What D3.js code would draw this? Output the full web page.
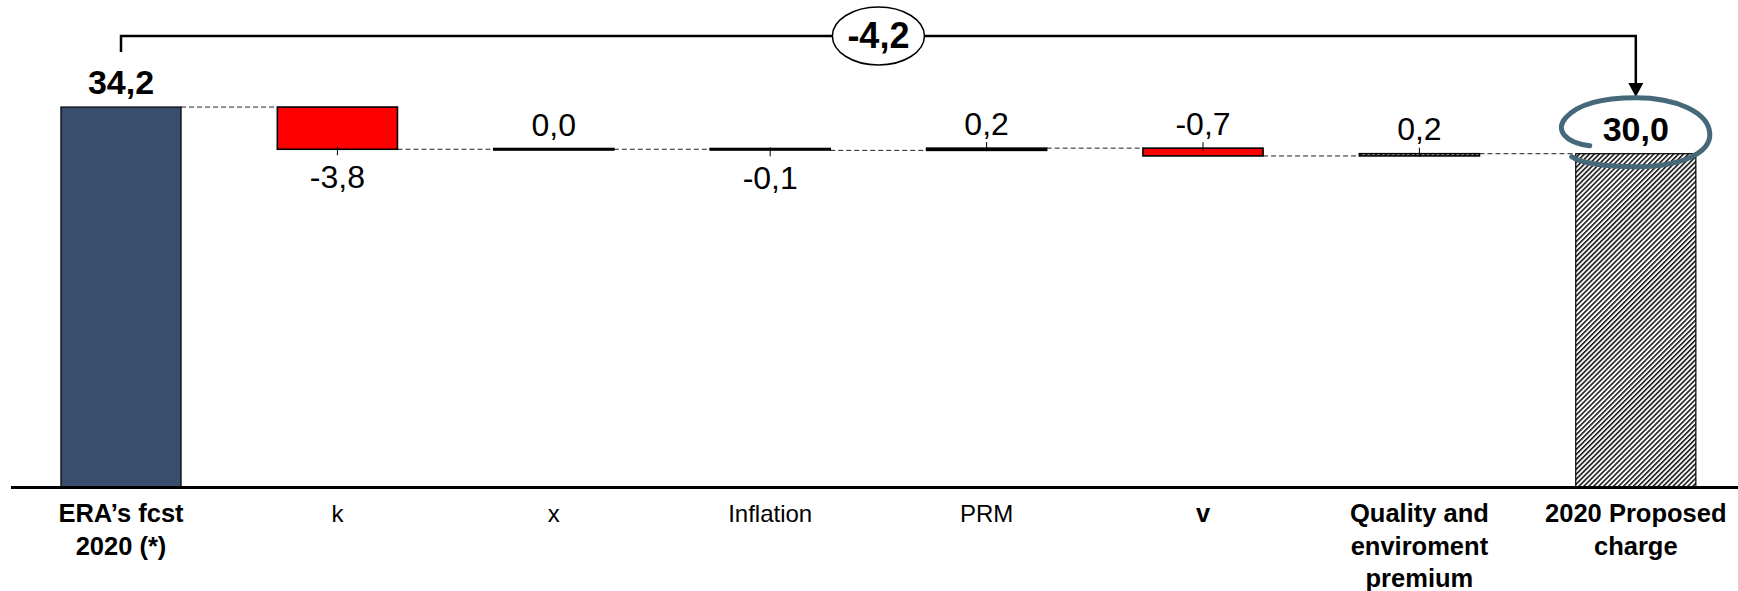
<!DOCTYPE html>
<html>
<head>
<meta charset="utf-8">
<script src="https://cdn.jsdelivr.net/npm/d3@7"></script>
<style>
  html, body { margin: 0; padding: 0; background: #fff; }
  svg { display: block; font-family: "Liberation Sans", Arial, sans-serif; }
</style>
</head>
<body>
<svg id="chart" width="1738" height="591"></svg>
<script>
// ---- data ----
const categories = ["ERA’s fcst 2020 (*)", "k", "x", "Inflation", "PRM", "v", "Quality and enviroment premium", "2020 Proposed charge"];
const categoryLines = [["ERA’s fcst", "2020 (*)"], ["k"], ["x"], ["Inflation"], ["PRM"], ["v"], ["Quality and", "enviroment", "premium"], ["2020 Proposed", "charge"]];
const values = [34.2, -3.8, 0.0, -0.1, 0.2, -0.7, 0.2, 30.0];
const kinds = ["total", "delta", "delta", "delta", "delta", "delta", "delta", "total"];
const totalChange = -4.2;

// ---- style ----
const boldCats = new Set(["ERA’s fcst 2020 (*)", "v", "Quality and enviroment premium", "2020 Proposed charge"]);
const labelBelow = new Set(["k", "Inflation"]);
const fills = ["#394E6C", "#FF0000", "#000000", "#000000", "#000000", "#FF0000", "url(#hatch)", "url(#hatch)"];

const locale = d3.formatLocale({decimal: ",", thousands: ".", grouping: [3], currency: ["", "€"], minus: "-"});
const fmt = locale.format(".1f");

const svg = d3.select("#chart");
const defs = svg.append("defs");
const pat = defs.append("pattern").attr("id", "hatch").attr("patternUnits", "userSpaceOnUse")
  .attr("width", 3.5).attr("height", 10).attr("patternTransform", "rotate(45)");
pat.append("rect").attr("width", 3.5).attr("height", 10).attr("fill", "#fff");
pat.append("line").attr("x1", 0.8).attr("x2", 0.8).attr("y1", 0).attr("y2", 10).attr("stroke", "#1a1a1a").attr("stroke-width", 1.6);

const x = d3.scaleBand().domain(categories).range([12.8, 1744]).paddingInner(0.445).paddingOuter(0.2225);
const y = d3.scaleLinear().domain([0, 40]).range([487, 42.6]);

// compute waterfall
let run = 0;
const bars = categories.map((c, i) => {
  let y0, y1;
  if (kinds[i] === "total") { y0 = 0; y1 = values[i]; run = values[i]; }
  else { y0 = run; y1 = run + values[i]; run = y1; }
  return {cat: c, i, v: values[i], lo: Math.min(y0, y1), hi: Math.max(y0, y1), end: y1, kind: kinds[i]};
});

// dashed connectors
const g = svg.append("g");
bars.slice(0, -1).forEach((b, i) => {
  const nb = bars[i + 1];
  g.append("line")
    .attr("x1", x(b.cat) + x.bandwidth()).attr("x2", x(nb.cat))
    .attr("y1", y(b.end)).attr("y2", y(b.end))
    .attr("stroke", "#222").attr("stroke-width", 1).attr("stroke-dasharray", "5,3");
});

// bars
g.selectAll("rect.bar").data(bars).join("rect")
  .attr("class", "bar")
  .attr("x", d => x(d.cat))
  .attr("width", x.bandwidth())
  .attr("y", d => y(d.hi) - (Math.abs(y(d.lo) - y(d.hi)) < 1.5 ? 0.75 : 0))
  .attr("height", d => Math.max(Math.abs(y(d.lo) - y(d.hi)), 1.5))
  .attr("fill", (d, i) => fills[i])
  .attr("stroke", "#000")
  .attr("stroke-width", d => d.kind === "total" ? 1.2 : 1.6);

// small ticks at bar centre
bars.filter(d => d.kind === "delta" && d.v !== 0).forEach(d => {
  const cx = x(d.cat) + x.bandwidth() / 2;
  const below = labelBelow.has(d.cat);
  const edge = below ? y(d.lo) : y(d.hi);
  g.append("line").attr("x1", cx).attr("x2", cx)
    .attr("y1", below ? edge - 3 : edge - 6).attr("y2", below ? edge + 6 : edge + 3)
    .attr("stroke", "#000").attr("stroke-width", 1);
});

// axis baseline
svg.append("line").attr("x1", 11).attr("x2", 1738).attr("y1", y(0) + 0.5).attr("y2", y(0) + 0.5)
  .attr("stroke", "#000").attr("stroke-width", 3);

// value labels
bars.forEach(d => {
  const cx = x(d.cat) + x.bandwidth() / 2;
  const below = labelBelow.has(d.cat);
  const isTotal = d.kind === "total";
  const yy = below ? y(d.lo) + 39 : y(d.hi) - (isTotal ? 13 : 13.5);
  svg.append("text").attr("x", cx).attr("y", yy)
    .attr("text-anchor", "middle")
    .attr("font-size", isTotal ? 34 : 32)
    .attr("font-weight", isTotal ? "bold" : "normal")
    .attr("fill", "#000")
    .text(fmt(d.v));
});

// category labels
categories.forEach((c, i) => {
  const cx = x(c) + x.bandwidth() / 2;
  const bold = boldCats.has(c);
  const t = svg.append("text").attr("x", cx).attr("y", 522)
    .attr("text-anchor", "middle").attr("font-size", bold ? 25.5 : 24)
    .attr("font-weight", bold ? "bold" : "normal").attr("fill", "#000");
  categoryLines[i].forEach((ln, j) => {
    t.append("tspan").attr("x", cx).attr("dy", j === 0 ? 0 : 32.5).text(ln);
  });
});

// bracket with arrow
const first = bars[0], last = bars[bars.length - 1];
const bx0 = x(first.cat) + x.bandwidth() / 2;
const bx1 = x(last.cat) + x.bandwidth() / 2;
const by = 36;
const arrowTip = 97;
svg.append("path")
  .attr("d", `M${bx0},${y(first.end) - 55} V${by} H${bx1} V${arrowTip - 12}`)
  .attr("fill", "none").attr("stroke", "#000").attr("stroke-width", 2.5);
svg.append("path")
  .attr("d", `M${bx1 - 7.5},${arrowTip - 14} L${bx1 + 7.5},${arrowTip - 14} L${bx1},${arrowTip} Z`)
  .attr("fill", "#000");
const ex = (bx0 + bx1) / 2;
svg.append("ellipse").attr("cx", ex).attr("cy", by).attr("rx", 46).attr("ry", 29)
  .attr("fill", "#fff").attr("stroke", "#000").attr("stroke-width", 1.5);
svg.append("text").attr("x", ex).attr("y", by + 12).attr("text-anchor", "middle")
  .attr("font-size", 36).attr("font-weight", "bold").text(fmt(totalChange));

// hand-drawn oval around final value
const ox = bx1, oy = y(last.end);
svg.append("path")
  .attr("d", `M${ox - 46},${oy - 8}
    C${ox - 71},${oy - 11} ${ox - 81},${oy - 24} ${ox - 70},${oy - 36}
    C${ox - 56},${oy - 52} ${ox - 26},${oy - 56} ${ox},${oy - 56}
    C${ox + 39},${oy - 56} ${ox + 73},${oy - 42} ${ox + 74},${oy - 20}
    C${ox + 75},${oy + 0} ${ox + 44},${oy + 13} ${ox},${oy + 13}
    C${ox - 31},${oy + 13} ${ox - 56},${oy + 9} ${ox - 64},${oy + 3}`)
  .attr("fill", "none").attr("stroke", "#46697A").attr("stroke-width", 5).attr("stroke-linecap", "round");
</script>
</body>
</html>
